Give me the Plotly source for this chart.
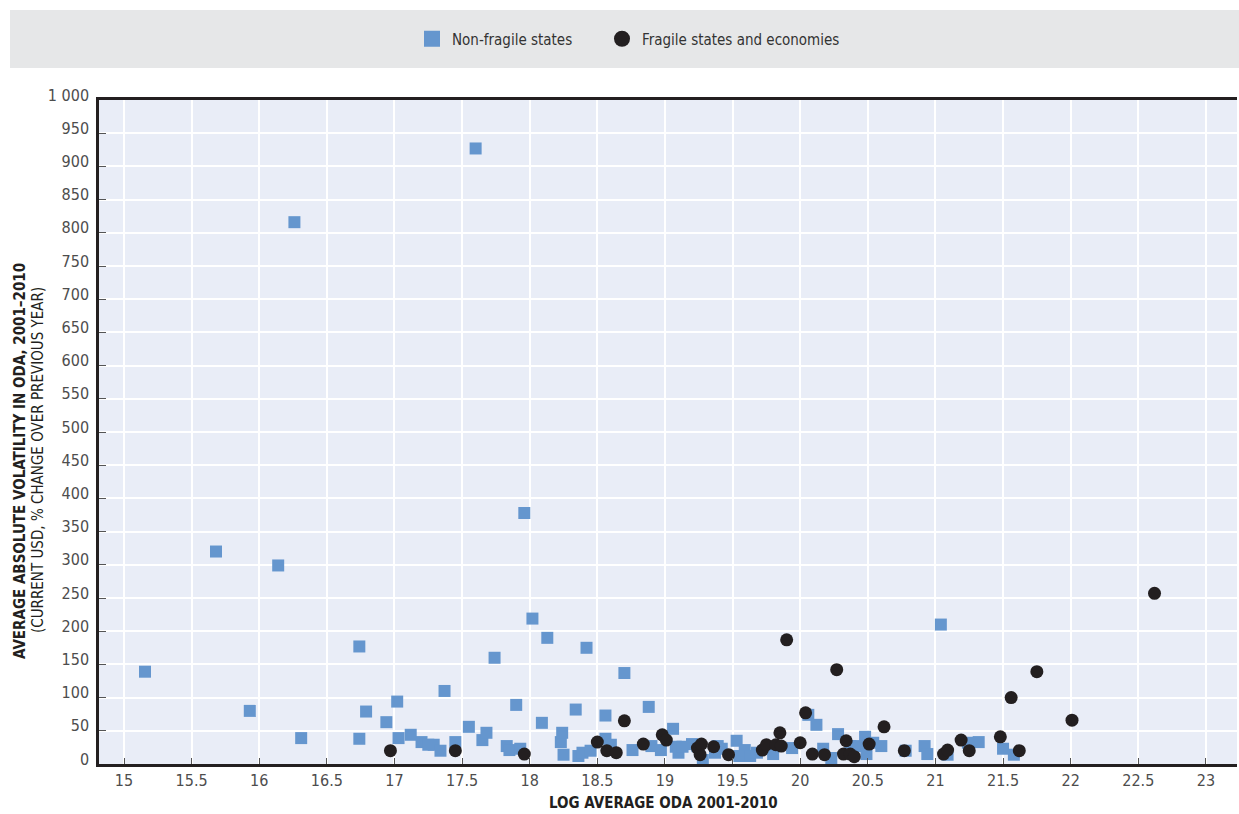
import plotly.graph_objects as go

# Non-fragile states
nf_x = [15.155, 15.68, 15.93, 16.14, 16.26, 16.31, 16.74, 16.74, 16.79, 16.94,
        17.02, 17.03, 17.12, 17.20, 17.25, 17.29, 17.34, 17.37, 17.45, 17.55,
        17.60, 17.65, 17.68, 17.74, 17.83, 17.85, 17.90, 17.93, 17.96, 18.02,
        18.09, 18.13, 18.23, 18.24, 18.25, 18.34, 18.36, 18.39, 18.42, 18.45,
        18.56, 18.56, 18.60, 18.70, 18.76, 18.88, 18.90, 18.97, 19.06, 19.08,
        19.10, 19.13, 19.20, 19.24, 19.28, 19.37, 19.39, 19.42, 19.53, 19.55,
        19.59, 19.63, 19.68, 19.80, 19.94, 20.06, 20.12, 20.17, 20.23, 20.28,
        20.37, 20.43, 20.48, 20.49, 20.54, 20.60, 20.78, 20.92, 20.94, 21.04,
        21.09, 21.24, 21.32, 21.50, 21.58]
nf_y = [139, 320, 80, 299, 816, 39, 177, 38, 79, 63,
        94, 39, 44, 33, 29, 29, 20, 110, 33, 56,
        927, 36, 47, 160, 27, 21, 89, 23, 378, 219,
        62, 190, 33, 47, 14, 82, 12, 17, 175, 20,
        38, 73, 29, 137, 21, 86, 27, 21, 53, 26,
        17, 26, 30, 27, 6, 17, 27, 23, 35, 12,
        21, 12, 17, 15, 24, 74, 59, 23, 9, 45,
        27, 27, 41, 15, 32, 27, 20, 27, 15, 210,
        14, 32, 33, 23, 14]

# Fragile states and economies
fr_x = [16.97, 17.45, 17.96, 18.50, 18.57, 18.64, 18.70, 18.84, 18.98, 19.01,
        19.24, 19.26, 19.27, 19.36, 19.47, 19.72, 19.75, 19.82, 19.85, 19.86,
        19.90, 20.00, 20.04, 20.09, 20.18, 20.27, 20.32, 20.34, 20.37, 20.40,
        20.51, 20.62, 20.77, 21.06, 21.09, 21.19, 21.25, 21.48, 21.56, 21.62,
        21.75, 22.01, 22.62]
fr_y = [20, 20, 15, 33, 20, 17, 65, 30, 44, 36,
        24, 14, 30, 26, 14, 21, 29, 29, 47, 27,
        187, 32, 77, 15, 14, 142, 15, 35, 15, 11,
        30, 56, 20, 15, 21, 36, 20, 41, 100, 20,
        139, 66, 257]

x_ticks = [15, 15.5, 16, 16.5, 17, 17.5, 18, 18.5, 19, 19.5, 20, 20.5, 21, 21.5,
           22, 22.5, 23]
x_tick_labels = ["15", "15.5", "16", "16.5", "17", "17.5", "18", "18.5", "19",
                 "19.5", "20", "20.5", "21", "21.5", "22", "22.5", "23"]
y_ticks = [0, 50, 100, 150, 200, 250, 300, 350, 400, 450, 500, 550, 600, 650,
           700, 750, 800, 850, 900, 950, 1000]
y_tick_labels = ["0", "50", "100", "150", "200", "250", "300", "350", "400", "450",
                 "500", "550", "600", "650", "700", "750", "800", "850", "900",
                 "950", "1 000"]

series_names = ["Non-fragile states", "Fragile states and economies"]

FONT = "Liberation Sans Narrow, Arial Narrow, DejaVu Sans Condensed, sans-serif"
BLUE = "#6596CE"
DARK = "#231F20"

fig = go.Figure()
fig.add_trace(go.Scatter(x=nf_x, y=nf_y, mode="markers", name=series_names[0],
                         showlegend=False,
                         marker=dict(symbol="square", size=12, color=BLUE)))
fig.add_trace(go.Scatter(x=fr_x, y=fr_y, mode="markers", name=series_names[1],
                         showlegend=False,
                         marker=dict(symbol="circle", size=13, color=DARK)))
# legend entries (larger symbols), each in its own legend box
fig.add_trace(go.Scatter(x=[None], y=[None], mode="markers", name=series_names[0],
                         legend="legend",
                         marker=dict(symbol="square", size=20, color=BLUE)))
fig.add_trace(go.Scatter(x=[None], y=[None], mode="markers", name=series_names[1],
                         legend="legend2",
                         marker=dict(symbol="circle", size=20, color=DARK)))

W, H = 1239, 814
L, R, T, B = 99, 2, 100, 50
pw, ph = W - L - R, H - T - B

def px_x(p):
    return (p - L) / pw

def px_y(p):
    return (H - B - p) / ph

legend_common = dict(orientation="h", xanchor="left", yanchor="middle",
                     y=px_y(39), bgcolor="rgba(0,0,0,0)",
                     font=dict(family=FONT, size=15, color="#333333"))

fig.update_layout(
    width=W, height=H,
    margin=dict(l=L, r=R, t=T, b=B, pad=0),
    paper_bgcolor="white",
    plot_bgcolor="#E9EDF7",
    font=dict(family=FONT, size=16, color="#4D4D4D"),
    showlegend=True,
    legend=dict(x=px_x(412), **legend_common),
    legend2=dict(x=px_x(602), **legend_common),
    shapes=[dict(type="rect", xref="paper", yref="paper",
                 x0=px_x(10), x1=px_x(1239), y0=px_y(68), y1=px_y(10),
                 fillcolor="#E6E7E8", line=dict(width=0), layer="below")],
    xaxis=dict(range=[14.815, 23.23], tickvals=x_ticks, ticktext=x_tick_labels,
               showgrid=True, gridcolor="white", gridwidth=1.5, zeroline=False,
               ticks="inside", ticklen=6, tickcolor="#555555", tickwidth=1,
               showline=True, linecolor=DARK, linewidth=2.5, mirror=True,
               tickfont=dict(size=16, color="#4D4D4D")),
    yaxis=dict(range=[0, 1000], tickvals=y_ticks, ticktext=y_tick_labels,
               showgrid=True, gridcolor="white", gridwidth=1.5, zeroline=False,
               ticks="inside", ticklen=7, tickcolor="#555555", tickwidth=1,
               showline=True, linecolor=DARK, linewidth=2.5,
               ticklabelshift=-5, ticklabelstandoff=4,
               tickfont=dict(size=16, color="#4D4D4D")),
    annotations=[
        dict(text="<b>AVERAGE ABSOLUTE VOLATILITY IN ODA, 2001\u20132010</b>",
             xref="paper", yref="paper", x=px_x(20), y=px_y(461),
             textangle=-90, showarrow=False, xanchor="center", yanchor="middle",
             font=dict(family=FONT, size=15, color=DARK)),
        dict(text="(CURRENT USD, % CHANGE OVER PREVIOUS YEAR)",
             xref="paper", yref="paper", x=px_x(38), y=px_y(460),
             textangle=-90, showarrow=False, xanchor="center", yanchor="middle",
             font=dict(family=FONT, size=15, color=DARK)),
        dict(text="<b>LOG AVERAGE ODA 2001-2010</b>",
             xref="paper", yref="paper", x=px_x(663), y=px_y(803),
             showarrow=False, xanchor="center", yanchor="middle",
             font=dict(family=FONT, size=15, color=DARK)),
    ],
)

fig.write_html("out.html",
               config={"displayModeBar": False},
               post_script="document.body.style.margin='0';"
                           "document.body.style.overflow='hidden';")
